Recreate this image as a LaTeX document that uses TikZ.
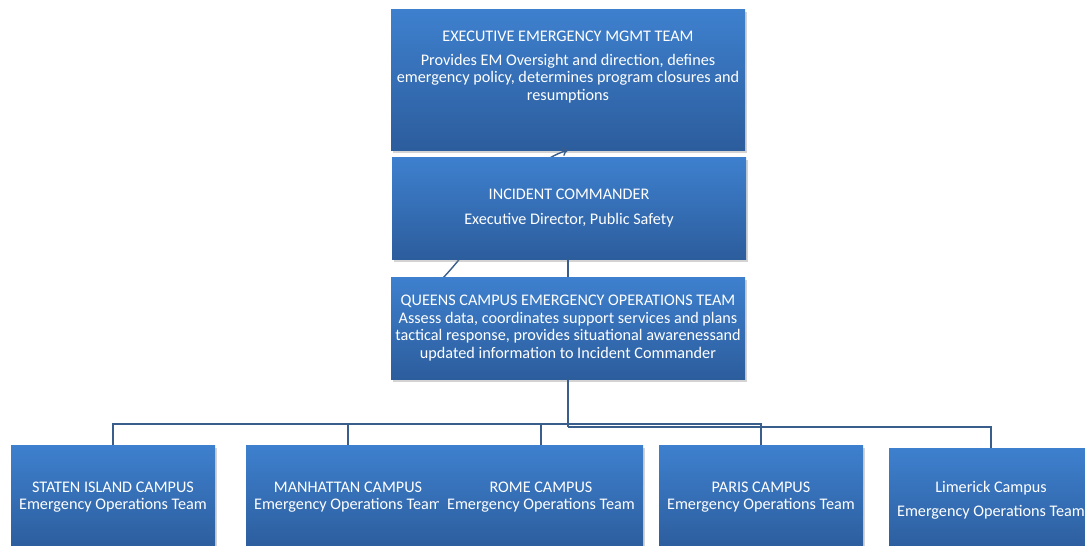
\documentclass[tikz,border=0pt]{standalone}
\usepackage{fontspec}
\setmainfont{Carlito}
\usetikzlibrary{shadows,arrows.meta}

\definecolor{boxtop}{RGB}{62,128,206}
\definecolor{boxbottom}{RGB}{44,93,157}
\definecolor{linkblue}{RGB}{58,94,140}

\begin{document}
\begin{tikzpicture}
	[
		x=1pt, y=-1pt,
		box/.style = {shape=rectangle, top color=boxtop, bottom color=boxbottom, drop shadow={shadow xshift=2pt, shadow yshift=-3pt, opacity=0.35}, text=white, align=center, font=\fontsize{16.2}{17.6}\selectfont},
		bigbox/.style = {box, anchor=center, minimum width=354pt, minimum height=102pt},
		campus/.style = {box, anchor=north, minimum width=204pt, minimum height=104pt},
		boxtext/.style = {text=white, align=center, font=\fontsize{16.2}{17.6}\selectfont, inner sep=0pt},
		link/.style = {draw=linkblue, line width=1.4pt}
	]
	
	\clip (0,0) rectangle (1085,546);
	
	\node [bigbox, minimum height=141pt] (exec) at (568,79.5) {};
	\node [boxtext] (exec-text) at (568,67) {EXECUTIVE EMERGENCY MGMT TEAM\\[6pt]
		Provides EM Oversight and direction, defines\\
		emergency policy, determines program closures and\\
		resumptions};
	
	% runs behind the incident commander box
	\coordinate (queens-left) at (442,279);
	\draw [link, -{To[length=6pt,width=9pt]}] (queens-left) .. controls (485,234) and (520,164) .. (exec.south);
	
	\node [bigbox] (incident) at (569,208) {INCIDENT COMMANDER\\[7pt]Executive Director, Public Safety};
	
	\node [bigbox] (queens) at (568,328) {QUEENS CAMPUS EMERGENCY OPERATIONS TEAM\\
		Assess data, coordinates support services and plans\\
		tactical response, provides situational awarenessand\\
		updated information to Incident Commander};
	
	\draw [link] (exec.south |- incident.south) -- (exec.south |- queens.north);
	
	\def\y{445}
	
	\node [campus] (staten) at (113,\y) {STATEN ISLAND CAMPUS\\Emergency Operations Team};
	\node [campus] (manhattan) at (348,\y) {MANHATTAN CAMPUS\\Emergency Operations Team};
	\node [campus] (rome) at (541,\y) {ROME CAMPUS\\Emergency Operations Team};
	\node [campus] (paris) at (761,\y) {PARIS CAMPUS\\Emergency Operations Team};
	\node [campus] (limerick) at (991,{\y + 3}) {Limerick Campus\\[7pt]Emergency Operations Team};
	
	\coordinate (bus) at (568,424);
	\coordinate (bus2) at (568,427);
	
	\draw [link] (queens.south) -- (bus2);
	\draw [link] (bus) -| (staten.north);
	\draw [link] (bus) -| (manhattan.north);
	\draw [link] (bus) -| (rome.north);
	\draw [link] (bus) -| (paris.north);
	\draw [link] (bus2) -| (limerick.north);
	
\end{tikzpicture}
\end{document}
